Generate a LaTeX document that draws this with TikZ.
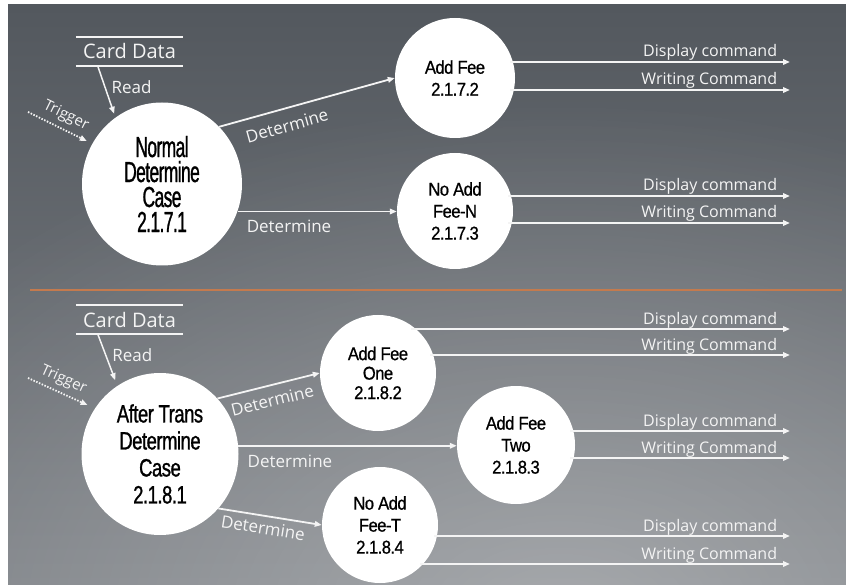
\documentclass[tikz,border=0pt]{standalone}
\usepackage{fontspec}
\setmainfont{Open Sans}
\newfontfamily\procbigA[FakeStretch=0.6,LetterSpace=-2,FakeBold=1]{Liberation Sans}
\newfontfamily\procbigB[FakeStretch=0.74,LetterSpace=-2,FakeBold=1]{Liberation Sans}
\newfontfamily\procsmall[FakeStretch=0.9,LetterSpace=-3,FakeBold=0.8]{Liberation Sans}
\usetikzlibrary{arrows.meta,shapes.geometric,calc,fadings}
\definecolor{bgdark}{HTML}{53585E}
\definecolor{bgmid}{HTML}{7C8085}
\definecolor{rulecol}{HTML}{C47A4E}
\definecolor{ink}{HTML}{F4F4F4}
\tikzfading[name=glow, inner color=transparent!0, outer color=transparent!100]

\begin{document}
\begin{tikzpicture}[x=1pt,y=-1pt,
  proc/.style={ellipse, fill=white, inner sep=0pt, align=center, text=black},
  procS/.style={proc, minimum width=#1, minimum height=#1,
    font=\procsmall\fontsize{18.5}{22}\selectfont},
  flow/.style={draw=ink, line width=1.8pt, -{Triangle[length=7pt,width=5.5pt]}},
  trig/.style={draw=ink, line width=1.8pt, dash pattern=on 1.5pt off 1.5pt,
    -{Triangle[length=7pt,width=5.5pt]}},
  lbl/.style={text=ink, font=\fontsize{17}{19}\selectfont, inner sep=2pt},
  cmd/.style={text=ink, font=\fontsize{16}{18}\selectfont, anchor=base east,
    inner sep=0pt, xshift=-12pt, yshift=5pt},
  store/.style={text=ink, font=\fontsize{20}{22}\selectfont,
    minimum width=107pt, minimum height=29pt, inner sep=0pt},
  storeline/.style={draw=ink, line width=1.8pt}
]
\useasboundingbox (0,0) rectangle (846,585);

% backdrop
\fill[white] (0,0) rectangle (846,585);
\begin{scope}
  \clip (8,5) rectangle (846,585);
  \shade[top color=bgdark, bottom color=bgmid] (8,5) rectangle (846,585);
  \fill[white, fill opacity=0.32, path fading=glow]
    (560,620) ellipse [x radius=800, y radius=520];
\end{scope}

% separator between the two diagrams
\draw[rulecol, line width=2pt] (30,290) -- (842,290);

% ---------------- upper diagram ----------------
\node[store] (cd1) at (129.5,51.5) {Card Data};
\draw[storeline] (cd1.north west) -- (cd1.north east)
                 (cd1.south west) -- (cd1.south east);

\node[proc, minimum width=160pt, minimum height=163pt,
      font=\procbigA\fontsize{29}{25}\selectfont] (nc) at (162,184)
      {Normal\\Determine\\Case\\2.1.7.1};
\node[procS=120] (af) at (455,78) {Add Fee\\2.1.7.2};
\node[procS=116] (nf) at (455,211) {No Add\\Fee-N\\2.1.7.3};

\draw[flow, line width=1.5pt, shorten >=4pt] ($(cd1.south west)+(22,0)$) -- (nc.125)
  node[lbl, pos=0.4, right=4pt] {Read};
\coordinate (tg1) at (28,112);
\draw[trig, shorten >=6pt] (tg1) -- (nc.150)
  node[lbl, font=\fontsize{15}{17}\selectfont, midway, sloped, above=3pt] {Trigger};

\draw[flow] (nc.45) -- (af.west)
  node[lbl, pos=0.36, sloped, below=8pt] {Determine};
\draw[flow] (nc.-20) -- (nc.-20 -| nf.west)
  node[lbl, pos=0.04, anchor=north west, yshift=-6pt] {Determine};

\coordinate (o1) at (790,62);
\coordinate (o2) at (790,90);
\coordinate (o3) at (790,196);
\coordinate (o4) at (790,223);
\draw[flow] ($(af.center)+(55,-16)$) -- (o1) node[cmd] {Display command};
\draw[flow] ($(af.center)+(55,12)$) -- (o2) node[cmd] {Writing Command};
\draw[flow] ($(nf.center)+(53,-15)$) -- (o3) node[cmd] {Display command};
\draw[flow] ($(nf.center)+(53,12)$) -- (o4) node[cmd] {Writing Command};

% ---------------- lower diagram ----------------
\node[store] (cd2) at (129.5,319.5) {Card Data};
\draw[storeline] (cd2.north west) -- (cd2.north east)
                 (cd2.south west) -- (cd2.south east);

\node[proc, minimum width=157pt, minimum height=162pt,
      font=\procbigB\fontsize{25}{27}\selectfont] (ac) at (160,454)
      {After Trans\\Determine\\Case\\2.1.8.1};
\node[procS=116, font=\procsmall\fontsize{18.5}{19.5}\selectfont] (a1) at (378,373)
      {Add Fee\\One\\2.1.8.2};
\node[procS=118] (a2) at (516,445) {Add Fee\\Two\\2.1.8.3};
\node[procS=116] (nt) at (380,525) {No Add\\Fee-T\\2.1.8.4};

\draw[flow, line width=1.5pt, shorten >=6pt] ($(cd2.south west)+(22,0)$) -- (ac.122)
  node[lbl, pos=0.4, right=4pt] {Read};
\coordinate (tg2) at (28,378);
\draw[trig, shorten >=8pt] (tg2) -- (ac.145)
  node[lbl, font=\fontsize{15}{17}\selectfont, pos=0.45, sloped, above=3pt] {Trigger};

\draw[flow] (ac.44) -- (a1.west)
  node[lbl, pos=0.5, sloped, below=6pt] {Determine};
\draw[flow] (ac.6) -- (ac.6 -| a2.west)
  node[lbl, pos=0.03, anchor=north west, yshift=-6pt] {Determine};
\draw[flow] (ac.-43) -- (nt.west)
  node[lbl, pos=0.45, sloped, below=3pt] {Determine};

\coordinate (p1) at (790,329);
\coordinate (p2) at (790,355);
\coordinate (p3) at (790,431);
\coordinate (p4) at (790,458);
\coordinate (p5) at (790,536);
\coordinate (p6) at (790,564);
\draw[flow] ($(a1.center)+(33,-44)$) -- (p1) node[cmd] {Display command};
\draw[flow] ($(a1.center)+(52,-18)$) -- (p2) node[cmd] {Writing Command};
\draw[flow] ($(a2.center)+(54,-14)$) -- (p3) node[cmd] {Display command};
\draw[flow] ($(a2.center)+(54,13)$) -- (p4) node[cmd] {Writing Command};
\draw[flow] ($(nt.center)+(54,11)$) -- (p5) node[cmd] {Display command};
\draw[flow] ($(nt.center)+(40,39)$) -- (p6) node[cmd] {Writing Command};
\end{tikzpicture}
\end{document}
